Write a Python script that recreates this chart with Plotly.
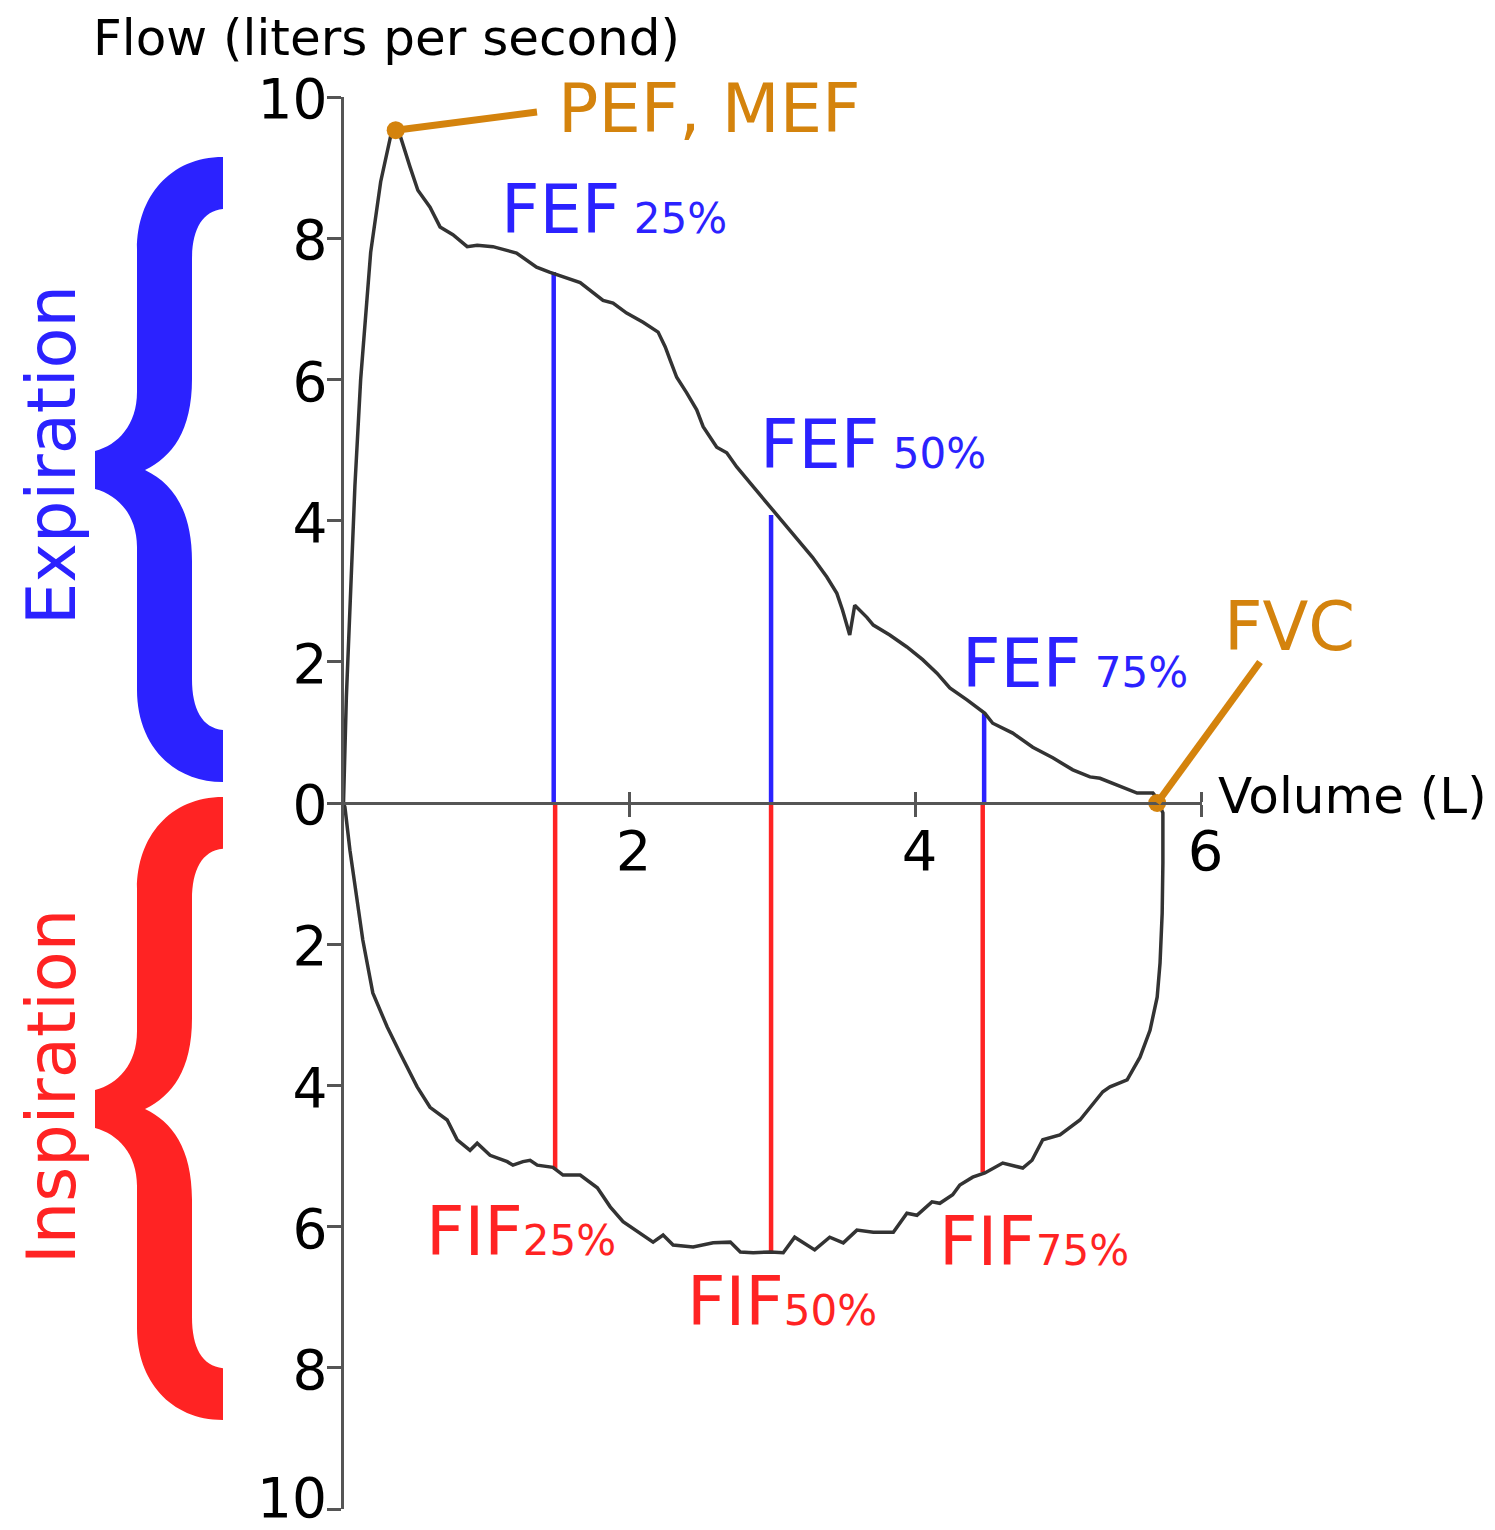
import plotly.graph_objects as go

# Flow-volume loop: volume in litres, flow in litres per second
# expiration is positive flow, inspiration is drawn as negative flow
exp_volume = [0.0, 0.02, 0.05, 0.08, 0.12, 0.19, 0.26, 0.33, 0.37, 0.395, 0.465, 0.52, 0.605, 0.675,
              0.765, 0.865, 0.935, 1.045, 1.21, 1.35, 1.44, 1.535, 1.655, 1.815, 1.885, 1.98, 2.095,
              2.2, 2.25, 2.285, 2.33, 2.4, 2.47, 2.515, 2.61, 2.68, 2.75, 2.865, 3.0, 3.14, 3.28,
              3.38, 3.45, 3.49, 3.54, 3.575, 3.66, 3.705, 3.82, 3.94, 4.05, 4.15, 4.24, 4.36, 4.485,
              4.54, 4.68, 4.82, 4.96, 5.1, 5.22, 5.29, 5.43, 5.55, 5.66, 5.70]
exp_flow = [0.0, 1.5, 3.0, 4.5, 6.0, 7.8, 8.8, 9.45, 9.58, 9.46, 9.01, 8.68, 8.44, 8.16,
            8.05, 7.88, 7.9, 7.88, 7.79, 7.59, 7.52, 7.45, 7.37, 7.12, 7.08, 6.94, 6.81,
            6.67, 6.46, 6.27, 6.03, 5.81, 5.57, 5.33, 5.04, 4.96, 4.76, 4.48, 4.15, 3.82, 3.48,
            3.2, 2.97, 2.73, 2.38, 2.8, 2.63, 2.52, 2.38, 2.21, 2.03, 1.84, 1.63, 1.46, 1.27,
            1.13, 0.99, 0.79, 0.64, 0.47, 0.37, 0.35, 0.23, 0.14, 0.14, 0.04]

insp_volume = [0.0, 0.01, 0.045, 0.095, 0.135, 0.205, 0.305, 0.395, 0.515, 0.605, 0.725, 0.795,
               0.885, 0.935, 1.025, 1.145, 1.185, 1.255, 1.305, 1.355, 1.465, 1.535, 1.655, 1.775,
               1.865, 1.955, 2.075, 2.165, 2.235, 2.305, 2.445, 2.585, 2.705, 2.775, 2.865, 2.985,
               3.075, 3.155, 3.295, 3.4, 3.495, 3.59, 3.705, 3.845, 3.94, 4.01, 4.115, 4.17, 4.26,
               4.31, 4.4, 4.485, 4.61, 4.75, 4.815, 4.89, 5.01, 5.15, 5.31, 5.36, 5.48, 5.57, 5.64,
               5.69, 5.71, 5.725, 5.73, 5.73, 5.70]
insp_flow = [0.0, -0.06, -0.67, -1.37, -1.94, -2.69, -3.17, -3.54, -4.02, -4.31, -4.49, -4.77,
             -4.92, -4.82, -4.99, -5.08, -5.13, -5.08, -5.06, -5.13, -5.16, -5.27, -5.27, -5.45,
             -5.72, -5.93, -6.09, -6.22, -6.12, -6.26, -6.29, -6.23, -6.22, -6.36, -6.37, -6.36,
             -6.37, -6.15, -6.33, -6.15, -6.23, -6.05, -6.08, -6.08, -5.81, -5.84, -5.65, -5.67, -5.55,
             -5.41, -5.30, -5.24, -5.10, -5.17, -5.06, -4.77, -4.70, -4.49, -4.09, -4.02, -3.92, -3.60, -3.22,
             -2.75, -2.27, -1.56, -0.85, -0.14, 0.0]

# forced expiratory / inspiratory flow at 25, 50, 75 % of FVC
pct_labels = ['25%', '50%', '75%']
fef_volume = [1.47, 2.99, 4.48]
fef_flow = [7.52, 4.08, 1.27]
fif_volume = [1.48, 2.99, 4.47]
fif_flow = [-5.2, -6.36, -5.23]

pef_volume, pef_flow = 0.365, 9.53
fvc_volume, fvc_flow = 5.69, 0.0

y_ticks = [-10, -8, -6, -4, -2, 0, 2, 4, 6, 8, 10]
x_ticks = [2, 4, 6]

# page geometry (pixels)
W, H = 1495, 1530
X0, X6 = 343.5, 1201.5      # volume 0 and 6
Y_TOP, Y_BOT = 97, 1509      # flow +10 and -10

BLUE = '#2b22ff'
RED = '#ff2323'
ORANGE = '#d4830d'
CURVE = '#333333'
AXIS = '#555555'
FONT = 'DejaVu Sans'


def xp(px):
    return px / W


def yp(py):
    return 1 - py / H


def vol_px(v):
    return X0 + (X6 - X0) * v / 6


def flow_px(f):
    return (Y_TOP + Y_BOT) / 2 - (Y_BOT - Y_TOP) * f / 20


fig = go.Figure()

# vertical FEF / FIF lines
def stems(vols, flows):
    xs, ys = [], []
    for v, f in zip(vols, flows):
        xs += [v, v, None]
        ys += [0, f, None]
    return xs, ys

sx, sy = stems(fef_volume, fef_flow)
fig.add_trace(go.Scatter(x=sx, y=sy, mode='lines', line=dict(color=BLUE, width=4.5), hoverinfo='skip'))
sx, sy = stems(fif_volume, fif_flow)
fig.add_trace(go.Scatter(x=sx, y=sy, mode='lines', line=dict(color=RED, width=4.5), hoverinfo='skip'))

# the loop itself
fig.add_trace(go.Scatter(x=exp_volume, y=exp_flow, mode='lines', line=dict(color=CURVE, width=3.5)))
fig.add_trace(go.Scatter(x=insp_volume, y=insp_flow, mode='lines', line=dict(color=CURVE, width=3.5)))

# leader lines for PEF and FVC
fig.add_shape(type='line', xref='paper', yref='paper',
              x0=xp(vol_px(pef_volume)), y0=yp(flow_px(pef_flow)), x1=xp(537), y1=yp(112),
              line=dict(color=ORANGE, width=7))
fig.add_shape(type='line', xref='paper', yref='paper',
              x0=xp(vol_px(fvc_volume)), y0=yp(flow_px(fvc_flow)), x1=xp(1260), y1=yp(662),
              line=dict(color=ORANGE, width=7))

fig.add_trace(go.Scatter(x=[pef_volume, fvc_volume], y=[pef_flow, fvc_flow], mode='markers',
                         marker=dict(color=ORANGE, size=18), cliponaxis=False))


# curly braces
def brace_path(top, bottom):
    s = (bottom - top) / 625.0

    def p(x, dy):
        return f'{xp(x):.5f},{yp(top + dy * s):.5f}'
    return ('M ' + p(223, 0) +
            ' C ' + p(170, 0) + ' ' + p(137, 40) + ' ' + p(137, 92) +
            ' L ' + p(137, 235) +
            ' C ' + p(137, 268) + ' ' + p(118, 288) + ' ' + p(95, 294) +
            ' L ' + p(95, 332) +
            ' C ' + p(118, 338) + ' ' + p(137, 358) + ' ' + p(137, 390) +
            ' L ' + p(137, 533) +
            ' C ' + p(137, 585) + ' ' + p(170, 625) + ' ' + p(223, 625) +
            ' L ' + p(223, 573) +
            ' C ' + p(202, 571) + ' ' + p(192, 552) + ' ' + p(192, 522) +
            ' L ' + p(192, 404) +
            ' C ' + p(192, 352) + ' ' + p(172, 326) + ' ' + p(145, 313) +
            ' C ' + p(172, 300) + ' ' + p(192, 274) + ' ' + p(192, 222) +
            ' L ' + p(192, 103) +
            ' C ' + p(192, 73) + ' ' + p(202, 54) + ' ' + p(223, 52) + ' Z')


fig.add_shape(type='path', xref='paper', yref='paper', path=brace_path(157, 782),
              fillcolor=BLUE, line=dict(width=0))
fig.add_shape(type='path', xref='paper', yref='paper', path=brace_path(797, 1420),
              fillcolor=RED, line=dict(width=0))


def label(text, left, baseline, size, color):
    # place text by its left edge and baseline (page pixels)
    fig.add_annotation(text=text, xref='paper', yref='paper', showarrow=False,
                       x=xp(left - 2), y=yp(baseline + 0.236 * size + 2),
                       xanchor='left', yanchor='bottom',
                       font=dict(family=FONT, size=size, color=color))


label('Flow (liters per second)', 93, 55, 50, 'black')
label('Volume (L)', 1218, 813, 50, 'black')
label('PEF, MEF', 558, 132, 67, ORANGE)
label('FVC', 1224, 650, 67, ORANGE)

fef_pos = [(501, 233), (760, 468), (962, 687)]
fif_pos = [(426, 1255), (687, 1325), (939, 1265)]
for pct, (lx, ly) in zip(pct_labels, fef_pos):
    label(f"FEF<span style='font-size:42px'> {pct}</span>", lx, ly, 67, BLUE)
for pct, (lx, ly) in zip(pct_labels, fif_pos):
    label(f"FIF<span style='font-size:42px'>{pct}</span>", lx, ly, 67, RED)

fig.add_annotation(text='Expiration', xref='paper', yref='paper', showarrow=False,
                   x=xp(52), y=yp(455), textangle=-90, xanchor='center', yanchor='middle',
                   font=dict(family=FONT, size=67, color=BLUE))
fig.add_annotation(text='Inspiration', xref='paper', yref='paper', showarrow=False,
                   x=xp(52), y=yp(1087), textangle=-90, xanchor='center', yanchor='middle',
                   font=dict(family=FONT, size=67, color=RED))

# the lowest tick label sits on the page edge, so it is set as its own text
# resting on the bottom of the page instead of centred on the tick
y_ticktext = [str(abs(t)) for t in y_ticks]
y_ticktext[0] = ''
fig.add_annotation(text=str(abs(y_ticks[0])), xref='paper', yref='paper', showarrow=False,
                   x=xp(327), y=0, xanchor='right', yanchor='bottom',
                   borderpad=0, borderwidth=0,
                   font=dict(family=FONT, size=55, color='black'))

fig.update_layout(
    width=W, height=H,
    margin=dict(l=0, r=0, t=0, b=0, pad=0, autoexpand=False),
    paper_bgcolor='white', plot_bgcolor='white',
    showlegend=False,
    font=dict(family=FONT, color='black'),
    xaxis=dict(domain=[xp(X0), xp(X6)], range=[0, 6], anchor='free',
               position=yp(flow_px(0)), automargin=False,
               showline=True, linecolor=AXIS, linewidth=3,
               ticks='outside', ticklen=12, tickwidth=3, tickcolor=AXIS,
               minor=dict(tickvals=x_ticks, ticks='inside', ticklen=10, tickwidth=3,
                          tickcolor=AXIS, showgrid=False),
               tickvals=x_ticks, ticktext=[str(t) for t in x_ticks],
               tickfont=dict(size=56), ticklabelstandoff=-14, ticklabelshift=4,
               showgrid=False, zeroline=False, fixedrange=True),
    yaxis=dict(domain=[yp(Y_BOT), yp(Y_TOP)], range=[-10, 10], anchor='x', automargin=False,
               showline=True, linecolor=AXIS, linewidth=3,
               ticks='outside', ticklen=14, tickwidth=3, tickcolor=AXIS,
               tickvals=y_ticks, ticktext=y_ticktext,
               tickfont=dict(size=55), ticklabelstandoff=-12, ticklabelshift=2,
               showgrid=False, zeroline=False, fixedrange=True),
)

# page without body margins or scrollbars so the figure fills the window exactly
fig.write_html('out.html', config={'displayModeBar': False},
               post_script="document.body.style.margin='0';document.body.style.overflow='hidden';")
